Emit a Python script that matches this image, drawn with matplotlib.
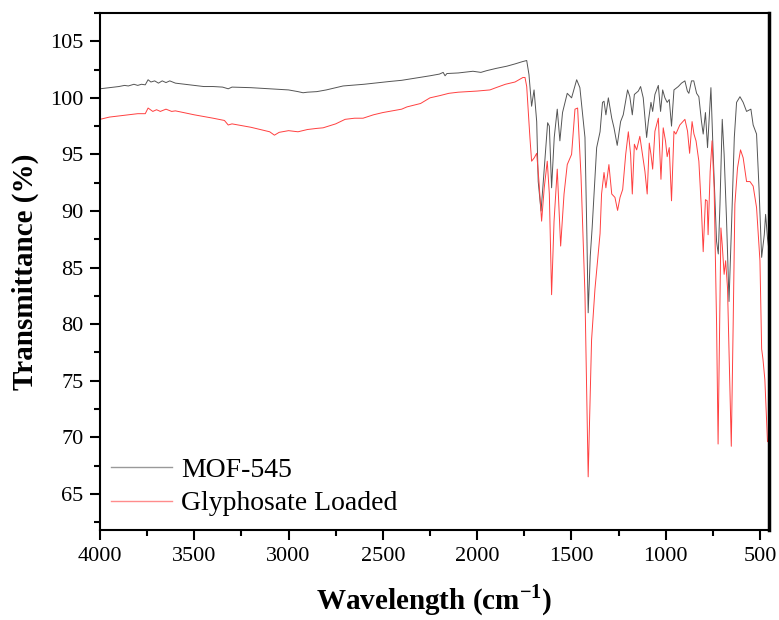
import matplotlib
matplotlib.use("Agg")
import matplotlib.pyplot as plt
from matplotlib.ticker import MultipleLocator

plt.rcParams['font.family'] = ['Liberation Serif', 'DejaVu Serif']
plt.rcParams['mathtext.fontset'] = 'custom'
plt.rcParams['mathtext.rm'] = 'Liberation Serif'
plt.rcParams['mathtext.bf'] = 'Liberation Serif:bold'

# ---- data: MOF-545 (wavenumber cm-1, transmittance %) ----
mof_wn = [4000, 3950, 3900, 3870, 3850, 3820, 3800, 3780, 3760, 3745, 3730, 3710, 3690, 3670,
          3650, 3630, 3600, 3550, 3500, 3450, 3400, 3350, 3320, 3300, 3200, 3100, 3000, 2950,
          2923, 2900, 2850, 2800, 2711, 2600, 2462, 2400, 2287, 2250, 2200, 2180, 2170, 2160,
          2100, 2022, 1980, 1950, 1900, 1842, 1799, 1760, 1737,
          1725, 1711, 1698, 1684, 1676, 1661, 1649, 1626, 1617, 1605, 1591, 1575, 1561, 1547,
          1522, 1499, 1472, 1455, 1428, 1418, 1411, 1400, 1390, 1366, 1348, 1335, 1327, 1317,
          1304, 1286, 1274, 1257, 1239, 1225, 1202, 1190, 1177, 1166, 1145, 1133, 1119, 1101,
          1092, 1078, 1069, 1057, 1039, 1027, 1016, 1004, 992, 981, 969, 956, 933, 916, 898,
          885, 877, 863, 851, 836, 824, 810, 801, 789, 778, 760, 748, 730, 721, 712, 700, 690,
          677, 664, 650, 636, 624, 606, 589, 571, 548, 536, 518, 505, 491, 477, 470, 460, 452]
mof_t = [100.8, 100.9, 101.0, 101.1, 101.05, 101.2, 101.1, 101.2, 101.15, 101.6, 101.4, 101.5,
         101.3, 101.5, 101.35, 101.5, 101.3, 101.2, 101.1, 101.0, 101.0, 100.95, 100.8, 100.95,
         100.9, 100.8, 100.7, 100.55, 100.45, 100.5, 100.55, 100.7, 101.05, 101.2, 101.45, 101.55,
         101.85, 101.95, 102.1, 102.25, 101.95, 102.15, 102.2, 102.35, 102.25, 102.4, 102.6,
         102.8, 103.0, 103.2, 103.3,
         102.06, 99.26, 100.7, 97.9, 92.6, 90.0, 92.6, 97.8, 97.5, 92.05, 96.5, 99.0, 96.2, 98.7,
         100.4, 100.0, 101.6, 100.9, 96.5, 88.0, 81.0, 86.0, 88.5, 95.6, 97.0, 99.6, 99.7, 98.5,
         100.0, 98.2, 97.35, 95.8, 97.9, 98.5, 100.7, 100.1, 98.5, 100.3, 100.6, 101.0, 100.0, 96.5,
         97.9, 99.6, 98.8, 100.3, 101.1, 98.8, 100.7, 100.0, 99.6, 99.85, 97.5, 100.7, 101.0, 101.3,
         101.5, 100.6, 100.4, 101.5, 101.5, 100.4, 100.1, 97.9, 96.8, 98.7, 95.6, 100.9, 95.0, 87.3,
         86.2, 90.6, 98.1, 95.0, 89.1, 82.0, 89.1, 96.5, 99.6, 100.1, 99.6, 98.8, 99.0, 97.6, 96.8,
         92.05, 85.9, 87.9, 89.7, 87.6, 86.5]

# ---- data: Glyphosate Loaded ----
gly_wn = [4000, 3950, 3900, 3850, 3800, 3760, 3745, 3720, 3700, 3680, 3650, 3620, 3600, 3500,
          3400, 3340, 3320, 3300, 3200, 3100, 3075, 3050, 3000, 2950, 2900, 2850, 2817, 2750,
          2700, 2650, 2605, 2550, 2500, 2400, 2372, 2300, 2250, 2197, 2150, 2100, 2000, 1932,
          1900, 1850, 1799, 1757, 1746, 1737,
          1720, 1711, 1697, 1684, 1672, 1658, 1644, 1628, 1617, 1605, 1592, 1575, 1557, 1539,
          1522, 1499, 1481, 1467, 1449, 1428, 1411, 1393, 1375, 1348, 1340, 1327, 1317, 1301,
          1286, 1269, 1255, 1242, 1228, 1212, 1198, 1186, 1177, 1166, 1154, 1137, 1123, 1110,
          1098, 1087, 1078, 1069, 1057, 1039, 1025, 1013, 1001, 992, 981, 969, 956, 946, 925,
          898, 884, 873, 860, 850, 839, 824, 810, 801, 789, 780, 775, 764, 754, 743, 730, 722,
          715, 707, 700, 690, 682, 672, 660, 652, 642, 633, 619, 603, 589, 571, 553, 536, 518,
          500, 491, 484, 474, 460, 452]
gly_t = [98.1, 98.3, 98.4, 98.5, 98.6, 98.6, 99.1, 98.8, 98.95, 98.8, 99.0, 98.8, 98.85, 98.5,
         98.2, 98.0, 97.6, 97.7, 97.4, 97.0, 96.7, 96.95, 97.1, 97.0, 97.2, 97.3, 97.35, 97.7,
         98.1, 98.2, 98.2, 98.5, 98.7, 99.0, 99.2, 99.5, 100.0, 100.2, 100.4, 100.5, 100.6, 100.7,
         100.9, 101.2, 101.4, 101.8, 101.8, 101.0,
         96.5, 94.4, 94.7, 95.1, 92.6, 89.1, 92.05, 94.4, 91.5, 82.6, 89.1, 93.7, 86.9, 91.5,
         94.1, 95.0, 99.0, 99.1, 93.1, 82.6, 66.5, 78.6, 83.1, 88.0, 91.5, 93.4, 92.05, 94.1,
         91.5, 91.2, 90.05, 91.2, 91.9, 95.0, 97.0, 95.0, 91.5, 95.9, 95.4, 96.6, 95.0, 93.5,
         91.5, 96.0, 95.0, 93.7, 97.05, 98.2, 92.8, 97.35, 96.2, 94.8, 95.6, 90.9, 97.05, 96.8, 97.6,
         98.1, 97.05, 95.1, 97.9, 96.8, 96.2, 94.4, 90.0, 86.4, 91.0, 90.9, 87.9, 93.5, 96.2, 92.05,
         80.0, 69.4, 78.0, 88.5, 87.0, 84.4, 85.6, 83.2, 75.0, 69.2, 80.0, 90.6, 93.8, 95.4, 94.7,
         92.6, 92.6, 92.2, 90.3, 85.6, 77.8, 76.9, 75.1, 69.6, 69.8]

series_names = ["MOF-545", "Glyphosate Loaded"]
series_colors = ["#555555", "#ff4040"]

x_ticks = [4000, 3500, 3000, 2500, 2000, 1500, 1000, 500]
y_ticks = [65, 70, 75, 80, 85, 90, 95, 100, 105]

fig = plt.figure(figsize=(7.79, 6.2), dpi=100)
ax = fig.add_axes([100 / 779, 1 - 530 / 620, 669 / 779, 517 / 620])

ax.plot(mof_wn, mof_t, color=series_colors[0], lw=0.7, label=series_names[0])
ax.plot(gly_wn, gly_t, color=series_colors[1], lw=0.7, label=series_names[1])

ax.set_xlim(4000, 452)
ax.set_ylim(61.8, 107.5)
ax.set_xticks(x_ticks)
ax.set_yticks(y_ticks)
ax.xaxis.set_minor_locator(MultipleLocator(250))
ax.yaxis.set_minor_locator(MultipleLocator(2.5))
ax.tick_params(which='major', direction='out', length=7, width=1.5, labelsize=16, pad=5)
ax.tick_params(which='minor', direction='out', length=4, width=1.5)
ax.tick_params(axis='x', which='both', top=False)
ax.tick_params(axis='y', which='both', right=False)
for s in ax.spines.values():
    s.set_linewidth(1.5)
ax.spines['right'].set_linewidth(2.5)

ax.set_xlabel(r'Wavelength (cm$^{\mathbf{-1}}$)', fontsize=21, fontweight='bold', labelpad=12)
ax.set_ylabel('Transmittance (%)', fontsize=21, fontweight='bold', labelpad=8)

leg = ax.legend(loc='lower left', frameon=False, fontsize=20, handlelength=2.2,
                handletextpad=0.32, labelspacing=0.3, borderaxespad=0.0,
                bbox_to_anchor=(0.0, 0.005))
for line in leg.get_lines():
    line.set_linewidth(1.0)
    line.set_alpha(0.6)

fig.savefig("out.png", dpi=100)
